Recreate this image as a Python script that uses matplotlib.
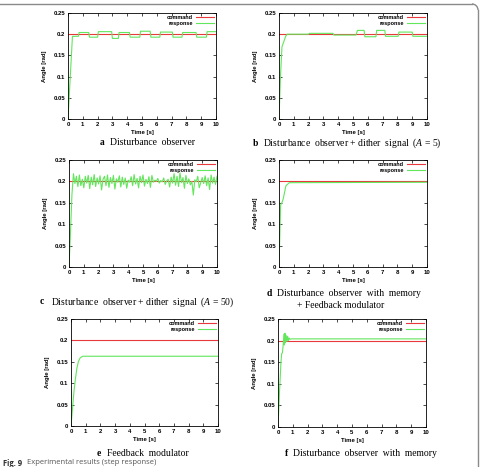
import numpy as np
import matplotlib
matplotlib.use("Agg")
import matplotlib.pyplot as plt
from matplotlib.lines import Line2D
from matplotlib.patches import Arc

plt.rcParams['mathtext.fontset'] = 'custom'
plt.rcParams['mathtext.rm'] = 'Liberation Serif'
plt.rcParams['mathtext.it'] = 'Liberation Serif:italic'

W, H = 480, 467

# ---------------- data ----------------
command_level = 0.2
x_ticks = [0, 1, 2, 3, 4, 5, 6, 7, 8, 9, 10]
y_ticks = [0, 0.05, 0.1, 0.15, 0.2, 0.25]
y_ticklabels = ["0", "0.05", "0.1", "0.15", "0.2", "0.25"]

# a: Disturbance observer (step-like limit cycle)
a_t = [0, 0.3, 0.3, 0.7, 0.75, 1.4, 1.45, 2.0, 2.05, 2.95, 3.0, 3.4, 3.45, 4.15, 4.2, 4.85, 4.9, 5.55, 5.6, 6.2, 6.25, 7.05, 7.1, 7.7, 7.75, 8.65, 8.7, 9.35, 9.4, 10]
a_y = [0, 0.195, 0.195, 0.195, 0.204, 0.204, 0.193, 0.193, 0.206, 0.206, 0.19, 0.19, 0.204, 0.204, 0.193, 0.193, 0.207, 0.207, 0.193, 0.193, 0.205, 0.205, 0.193, 0.193, 0.204, 0.204, 0.193, 0.193, 0.206, 0.206]

# b: DOB + dither (A=5)
b_t = [0, 0.1, 0.2, 0.3, 0.45, 0.55, 2.0, 2.05, 3.65, 3.7, 5.2, 5.3, 5.75, 5.8, 6.55, 6.6, 7.15, 7.2, 8.05, 8.1, 9.0, 9.05, 10]
b_y = [0, 0.1, 0.17, 0.18, 0.195, 0.2, 0.2, 0.202, 0.202, 0.198, 0.198, 0.209, 0.209, 0.194, 0.194, 0.209, 0.209, 0.195, 0.195, 0.205, 0.205, 0.195, 0.195]

# c: DOB + dither (A=50), sampled every 0.1 s
c_t = np.round(np.arange(0, 10.05, 0.1), 2)
c_y = [0, 0.08, 0.17,
       0.218, 0.195, 0.212, 0.188, 0.215, 0.19, 0.205, 0.185, 0.212, 0.196, 0.214,
       0.183, 0.21, 0.192, 0.216, 0.188, 0.208, 0.194, 0.213, 0.18, 0.205,
       0.212, 0.19, 0.215, 0.186, 0.209, 0.195, 0.214, 0.182, 0.206, 0.198,
       0.213, 0.187, 0.21, 0.193, 0.208, 0.184, 0.203, 0.198, 0.211, 0.19,
       0.216, 0.194, 0.207, 0.185, 0.212, 0.197, 0.215, 0.189, 0.205, 0.195,
       0.211, 0.186, 0.214, 0.198, 0.203, 0.2, 0.207, 0.196, 0.202, 0.199,
       0.208, 0.193, 0.201, 0.205, 0.187, 0.21, 0.196, 0.218, 0.191, 0.212,
       0.188, 0.22, 0.197, 0.209, 0.184, 0.214, 0.195, 0.206, 0.192, 0.2,
       0.168, 0.204, 0.199, 0.212, 0.185, 0.197, 0.209, 0.195, 0.213, 0.19,
       0.208, 0.181, 0.215, 0.196, 0.21, 0.193, 0.212]

# d: DOB with memory + feedback modulator
d_t = [0, 0.11, 0.23, 0.29, 0.47, 0.7, 10]
d_y = [0, 0.145, 0.153, 0.16, 0.19, 0.197, 0.198]

# e: Feedback modulator
e_t = [0, 0.1, 0.2, 0.3, 0.4, 0.5, 0.6, 0.7, 0.8, 10]
e_y = [0, 0.04, 0.08, 0.11, 0.135, 0.15, 0.158, 0.161, 0.163, 0.163]

# f: DOB with memory
f_t = [0, 0.1, 0.2, 0.25, 0.3, 0.35, 0.4, 0.43, 0.47, 0.5, 0.55, 0.6, 0.65, 0.7, 0.75, 0.8, 0.9, 10]
f_y = [0, 0.08, 0.15, 0.17, 0.172, 0.19, 0.215, 0.19, 0.217, 0.195, 0.212, 0.198, 0.21, 0.2, 0.206, 0.203, 0.204, 0.204]

panels = [
    # (t, y, left, right, top, bottom)
    (a_t, a_y, 68, 216, 13, 119),
    (b_t, b_y, 279, 427, 13, 119),
    (c_t, c_y, 69, 217, 160, 267),
    (d_t, d_y, 279, 427, 160, 267),
    (e_t, e_y, 71, 218, 319, 426),
    (f_t, f_y, 278, 426, 319, 427),
]

RED = '#e8383c'
GREEN = '#62e65c'
tick_font = dict(family='Liberation Sans', weight='bold', size=4.3)

fig = plt.figure(figsize=(W / 100, H / 100), dpi=100)

for t, y, l, r, top, bot in panels:
    ax = fig.add_axes([l / W, 1 - bot / H, (r - l) / W, (bot - top) / H])
    ax.plot([0, 10], [command_level, command_level], color=RED, lw=0.8, label='command')
    ax.plot(t, y, color=GREEN, lw=0.8, label='response')
    ax.set_xlim(0, 10)
    ax.set_ylim(0, 0.25)
    ax.set_xticks(x_ticks)
    ax.set_xticklabels([str(v) for v in x_ticks], fontdict=tick_font)
    ax.set_yticks(y_ticks)
    ax.set_yticklabels(y_ticklabels, fontdict=tick_font)
    ax.tick_params(direction='in', length=2.5, width=0.5, top=True, right=True, pad=2)
    for s in ax.spines.values():
        s.set_linewidth(0.6)
    ax.set_xlabel('Time [s]', fontdict=tick_font, labelpad=2)
    ax.set_ylabel('Angle [rad]', fontdict=tick_font, labelpad=5)
    ax.legend(loc='upper right', frameon=False, markerfirst=False,
              prop=dict(family='Liberation Sans', weight='bold', size=4),
              handlelength=3.2, handletextpad=0.6, labelspacing=0.15,
              borderaxespad=0.25, borderpad=0.1)

serif = 'Liberation Serif'
cap_size = 6.9

def caption(letter, lx, tx, y, text):
    fig.text(lx / W, 1 - y / H, letter, family=serif, weight='bold', size=cap_size, va='center', ha='left')
    fig.text(tx / W, 1 - y / H, text, family=serif, size=cap_size, va='center', ha='left')

caption('a', 100, 110, 142, 'Disturbance  observer')
caption('b', 253, 263, 143, 'Disturbance  observer + dither  signal  ($A$ = 5)')
caption('c', 40, 51, 302, 'Disturbance  observer + dither  signal  ($A$ = 50)')
caption('d', 267, 277, 293, 'Disturbance  observer  with  memory')
fig.text(297 / W, 1 - 306 / H, '+ Feedback modulator', family=serif, size=cap_size, va='center', ha='left')
caption('e', 97, 107, 454, 'Feedback  modulator')
caption('f', 285, 293, 453, 'Disturbance  observer  with  memory')

fig.text(3 / W, 1 - 463 / H, 'Fig. 9', family='Open Sans', weight='bold', size=5.5, va='center', ha='left', color='#333333')
fig.text(27 / W, 1 - 463 / H, 'Experimental results (step response)', family='Open Sans', size=5.5, va='center', ha='left', color='#555555')

# page frame (top edge and right edge with rounded corner)
frame_col = '#8a8a8a'
rad = 6
fig.add_artist(Line2D([0, (478 - rad) / W], [1 - 4 / H, 1 - 4 / H], transform=fig.transFigure, color=frame_col, lw=1.0))
fig.add_artist(Line2D([478 / W, 478 / W], [1 - (4 + rad) / H, 0], transform=fig.transFigure, color=frame_col, lw=1.0))
fig.add_artist(Arc(((478 - rad) / W, 1 - (4 + rad) / H), 2 * rad / W, 2 * rad / H, theta1=0, theta2=90,
                   transform=fig.transFigure, color=frame_col, lw=1.0))

fig.savefig('out.png', dpi=100)
